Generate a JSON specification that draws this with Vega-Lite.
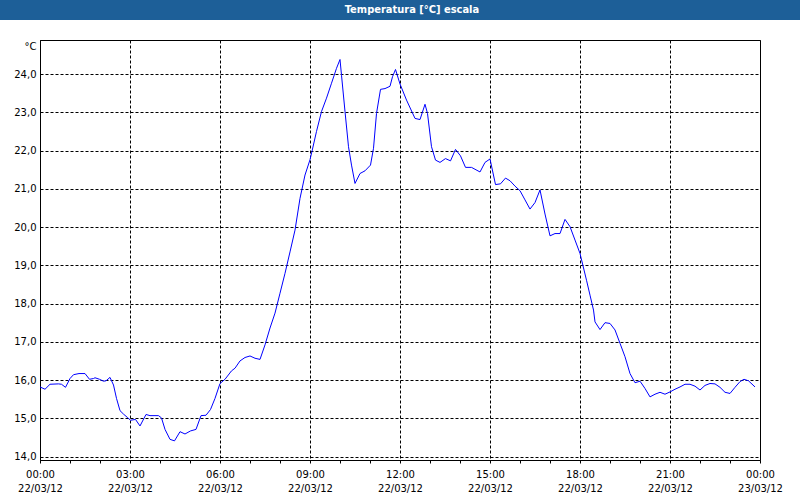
{
  "$schema": "https://vega.github.io/schema/vega-lite/v6.json",
  "autosize": {"type": "none"},
  "padding": {"left": 40, "top": 40, "right": 40, "bottom": 40},
  "width": 720,
  "height": 420,
  "background": "white",
  "config": {
    "view": {"stroke": "black", "strokeWidth": 1, "fill": "white"},
    "font": "DejaVu Sans",
    "locale": {"number": {"decimal": ",", "thousands": ".", "grouping": [3], "currency": ["", " €"]}}
  },
  "data": {
    "values": [
      {"t": "2012-03-22T00:00", "v": 15.82}, {"t": "2012-03-22T00:10", "v": 15.76}, {"t": "2012-03-22T00:20", "v": 15.89},
      {"t": "2012-03-22T00:37", "v": 15.90}, {"t": "2012-03-22T00:43", "v": 15.89}, {"t": "2012-03-22T00:51", "v": 15.81},
      {"t": "2012-03-22T01:00", "v": 16.04}, {"t": "2012-03-22T01:07", "v": 16.14}, {"t": "2012-03-22T01:18", "v": 16.17},
      {"t": "2012-03-22T01:30", "v": 16.17}, {"t": "2012-03-22T01:39", "v": 16.02}, {"t": "2012-03-22T01:47", "v": 16.04},
      {"t": "2012-03-22T01:50", "v": 16.06}, {"t": "2012-03-22T01:59", "v": 16.02}, {"t": "2012-03-22T02:07", "v": 15.97},
      {"t": "2012-03-22T02:12", "v": 15.98}, {"t": "2012-03-22T02:20", "v": 16.07}, {"t": "2012-03-22T02:27", "v": 15.87},
      {"t": "2012-03-22T02:33", "v": 15.52}, {"t": "2012-03-22T02:40", "v": 15.20}, {"t": "2012-03-22T02:47", "v": 15.11},
      {"t": "2012-03-22T02:55", "v": 15.02}, {"t": "2012-03-22T03:01", "v": 14.95}, {"t": "2012-03-22T03:11", "v": 14.97},
      {"t": "2012-03-22T03:20", "v": 14.80}, {"t": "2012-03-22T03:32", "v": 15.10}, {"t": "2012-03-22T03:40", "v": 15.07},
      {"t": "2012-03-22T03:57", "v": 15.07}, {"t": "2012-03-22T04:03", "v": 15.01}, {"t": "2012-03-22T04:10", "v": 14.71},
      {"t": "2012-03-22T04:20", "v": 14.45}, {"t": "2012-03-22T04:29", "v": 14.41}, {"t": "2012-03-22T04:40", "v": 14.65},
      {"t": "2012-03-22T04:50", "v": 14.59}, {"t": "2012-03-22T05:01", "v": 14.67}, {"t": "2012-03-22T05:12", "v": 14.71},
      {"t": "2012-03-22T05:22", "v": 15.07}, {"t": "2012-03-22T05:32", "v": 15.08}, {"t": "2012-03-22T05:41", "v": 15.23},
      {"t": "2012-03-22T05:50", "v": 15.52}, {"t": "2012-03-22T06:00", "v": 15.91}, {"t": "2012-03-22T06:10", "v": 16.02},
      {"t": "2012-03-22T06:23", "v": 16.24}, {"t": "2012-03-22T06:30", "v": 16.31}, {"t": "2012-03-22T06:40", "v": 16.50},
      {"t": "2012-03-22T06:50", "v": 16.59}, {"t": "2012-03-22T07:00", "v": 16.63}, {"t": "2012-03-22T07:10", "v": 16.57},
      {"t": "2012-03-22T07:20", "v": 16.54}, {"t": "2012-03-22T07:30", "v": 16.92}, {"t": "2012-03-22T07:40", "v": 17.36},
      {"t": "2012-03-22T07:50", "v": 17.75}, {"t": "2012-03-22T08:00", "v": 18.27}, {"t": "2012-03-22T08:10", "v": 18.79},
      {"t": "2012-03-22T08:20", "v": 19.35}, {"t": "2012-03-22T08:30", "v": 19.92}, {"t": "2012-03-22T08:40", "v": 20.75},
      {"t": "2012-03-22T08:50", "v": 21.36}, {"t": "2012-03-22T09:00", "v": 21.76}, {"t": "2012-03-22T09:05", "v": 22.04},
      {"t": "2012-03-22T09:13", "v": 22.50}, {"t": "2012-03-22T09:23", "v": 23.02}, {"t": "2012-03-22T09:33", "v": 23.37},
      {"t": "2012-03-22T09:43", "v": 23.76}, {"t": "2012-03-22T09:53", "v": 24.15}, {"t": "2012-03-22T10:00", "v": 24.38},
      {"t": "2012-03-22T10:03", "v": 23.97}, {"t": "2012-03-22T10:10", "v": 23.02}, {"t": "2012-03-22T10:17", "v": 22.10},
      {"t": "2012-03-22T10:23", "v": 21.62}, {"t": "2012-03-22T10:30", "v": 21.14}, {"t": "2012-03-22T10:40", "v": 21.40},
      {"t": "2012-03-22T10:50", "v": 21.47}, {"t": "2012-03-22T11:01", "v": 21.62}, {"t": "2012-03-22T11:07", "v": 22.06},
      {"t": "2012-03-22T11:13", "v": 22.97}, {"t": "2012-03-22T11:21", "v": 23.60}, {"t": "2012-03-22T11:30", "v": 23.62},
      {"t": "2012-03-22T11:40", "v": 23.68}, {"t": "2012-03-22T11:45", "v": 23.93}, {"t": "2012-03-22T11:51", "v": 24.12},
      {"t": "2012-03-22T12:00", "v": 23.74}, {"t": "2012-03-22T12:13", "v": 23.32}, {"t": "2012-03-22T12:30", "v": 22.84},
      {"t": "2012-03-22T12:40", "v": 22.81}, {"t": "2012-03-22T12:50", "v": 23.21}, {"t": "2012-03-22T12:55", "v": 22.97},
      {"t": "2012-03-22T13:03", "v": 22.10}, {"t": "2012-03-22T13:11", "v": 21.75}, {"t": "2012-03-22T13:20", "v": 21.69},
      {"t": "2012-03-22T13:31", "v": 21.79}, {"t": "2012-03-22T13:41", "v": 21.73}, {"t": "2012-03-22T13:51", "v": 22.03},
      {"t": "2012-03-22T14:01", "v": 21.86}, {"t": "2012-03-22T14:11", "v": 21.56}, {"t": "2012-03-22T14:23", "v": 21.56},
      {"t": "2012-03-22T14:40", "v": 21.44}, {"t": "2012-03-22T14:50", "v": 21.69}, {"t": "2012-03-22T15:00", "v": 21.78},
      {"t": "2012-03-22T15:11", "v": 21.11}, {"t": "2012-03-22T15:21", "v": 21.13}, {"t": "2012-03-22T15:31", "v": 21.28},
      {"t": "2012-03-22T15:40", "v": 21.21}, {"t": "2012-03-22T15:50", "v": 21.07}, {"t": "2012-03-22T16:00", "v": 20.95},
      {"t": "2012-03-22T16:10", "v": 20.71}, {"t": "2012-03-22T16:20", "v": 20.47}, {"t": "2012-03-22T16:30", "v": 20.64},
      {"t": "2012-03-22T16:40", "v": 20.97}, {"t": "2012-03-22T16:50", "v": 20.34}, {"t": "2012-03-22T17:00", "v": 19.77},
      {"t": "2012-03-22T17:10", "v": 19.83}, {"t": "2012-03-22T17:20", "v": 19.83}, {"t": "2012-03-22T17:30", "v": 20.20},
      {"t": "2012-03-22T17:40", "v": 20.01}, {"t": "2012-03-22T17:50", "v": 19.66}, {"t": "2012-03-22T18:00", "v": 19.31},
      {"t": "2012-03-22T18:13", "v": 18.61}, {"t": "2012-03-22T18:20", "v": 18.22}, {"t": "2012-03-22T18:27", "v": 17.83},
      {"t": "2012-03-22T18:30", "v": 17.52}, {"t": "2012-03-22T18:40", "v": 17.32}, {"t": "2012-03-22T18:50", "v": 17.50},
      {"t": "2012-03-22T19:00", "v": 17.48}, {"t": "2012-03-22T19:10", "v": 17.31}, {"t": "2012-03-22T19:20", "v": 16.96},
      {"t": "2012-03-22T19:30", "v": 16.61}, {"t": "2012-03-22T19:40", "v": 16.17}, {"t": "2012-03-22T19:50", "v": 15.93},
      {"t": "2012-03-22T20:00", "v": 15.97}, {"t": "2012-03-22T20:10", "v": 15.78}, {"t": "2012-03-22T20:20", "v": 15.56},
      {"t": "2012-03-22T20:30", "v": 15.63}, {"t": "2012-03-22T20:40", "v": 15.68}, {"t": "2012-03-22T20:50", "v": 15.63},
      {"t": "2012-03-22T21:00", "v": 15.69}, {"t": "2012-03-22T21:10", "v": 15.76}, {"t": "2012-03-22T21:20", "v": 15.82},
      {"t": "2012-03-22T21:30", "v": 15.89}, {"t": "2012-03-22T21:40", "v": 15.89}, {"t": "2012-03-22T21:50", "v": 15.84},
      {"t": "2012-03-22T22:00", "v": 15.74}, {"t": "2012-03-22T22:10", "v": 15.86}, {"t": "2012-03-22T22:20", "v": 15.91},
      {"t": "2012-03-22T22:30", "v": 15.90}, {"t": "2012-03-22T22:40", "v": 15.81}, {"t": "2012-03-22T22:50", "v": 15.68},
      {"t": "2012-03-22T23:00", "v": 15.65}, {"t": "2012-03-22T23:10", "v": 15.81}, {"t": "2012-03-22T23:20", "v": 15.96},
      {"t": "2012-03-22T23:28", "v": 16.02}, {"t": "2012-03-22T23:37", "v": 15.98}, {"t": "2012-03-22T23:50", "v": 15.82}
    ]
  },
  "layer": [
    {
      "mark": {"type": "line", "color": "#0000ff", "strokeWidth": 1},
      "encoding": {
        "x": {
          "field": "t",
          "type": "temporal",
          "scale": {"domain": ["2012-03-22T00:00", "2012-03-23T00:00"]},
          "axis": {
            "title": null,
            "tickCount": 24,
            "labelExpr": "hours(datum.value) % 3 === 0 ? [timeFormat(datum.value, '%H:%M'), timeFormat(datum.value, '%d/%m/%y')] : ''",
            "grid": true,
            "gridColor": "black",
            "gridDash": [3, 2],
            "gridOpacity": {"condition": {"test": "hours(datum.value) % 3 === 0", "value": 1}, "value": 0},
            "domainColor": "black",
            "tickColor": "black",
            "tickSize": 3,
            "labelOverlap": false,
            "labelFlush": false,
            "labelPadding": 6,
            "labelFontSize": 10,
            "labelColor": "black",
            "labelLineHeight": 14
          }
        },
        "y": {
          "field": "v",
          "type": "quantitative",
          "scale": {"domain": [13.91, 24.89], "nice": false, "zero": false},
          "axis": {
            "title": "°C",
            "values": [14, 15, 16, 17, 18, 19, 20, 21, 22, 23, 24],
            "grid": true,
            "gridColor": "black",
            "gridDash": [3, 2],
            "ticks": false,
            "domainColor": "black",
            "format": ".1f",
            "labelPadding": 4,
            "labelFontSize": 10,
            "labelColor": "black",
            "titleAngle": 0,
            "titleX": -4,
            "titleY": 9,
            "titleAlign": "right",
            "titleBaseline": "alphabetic",
            "titleFontWeight": "normal",
            "titleFontSize": 10,
            "titleColor": "black"
          }
        }
      }
    },
    {
      "data": {"values": [{"part": "header"}]},
      "mark": {"type": "rect", "color": "#1d5f98", "clip": false},
      "encoding": {
        "x": {"datum": {"year": 2012, "month": 3, "date": 21, "hours": 22, "minutes": 40}, "type": "temporal"},
        "x2": {"datum": {"year": 2012, "month": 3, "date": 23, "hours": 1, "minutes": 20}},
        "y": {"datum": 25.94, "type": "quantitative"},
        "y2": {"datum": 25.41}
      }
    },
    {
      "data": {"values": [{"label": "Temperatura [°C] escala"}]},
      "mark": {"type": "text", "color": "white", "font": "DejaVu Sans Condensed, DejaVu Sans", "fontSize": 11, "fontWeight": "bold", "align": "center", "baseline": "middle", "clip": false},
      "encoding": {
        "x": {"datum": {"year": 2012, "month": 3, "date": 22, "hours": 12, "minutes": 24}, "type": "temporal"},
        "y": {"datum": 25.67, "type": "quantitative"},
        "text": {"field": "label", "type": "nominal"}
      }
    }
  ]
}
